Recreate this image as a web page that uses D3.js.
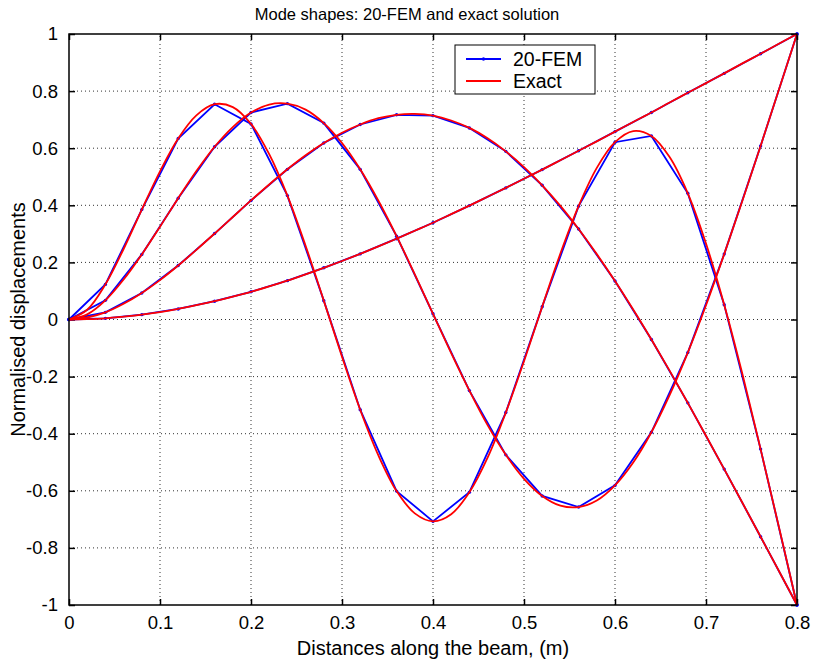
<!DOCTYPE html>
<html>
<head>
<meta charset="utf-8">
<script src="https://d3js.org/d3.v7.min.js"></script>
<style>
  body { margin: 0; background: #fff; }
  text { font-family: "Liberation Sans", Arial, Helvetica, sans-serif; fill: #000; }
</style>
</head>
<body>
<svg id="chart" width="814" height="663"></svg>
<script>
// node positions of the 20-element model, (m)
const xFem = [0, 0.04, 0.08, 0.12, 0.16, 0.2, 0.24, 0.28, 0.32, 0.36, 0.4,
              0.44, 0.48, 0.52, 0.56, 0.6, 0.64, 0.68, 0.72, 0.76, 0.8];

// 20-FEM nodal displacements, modes 1-4
const fem1 = [0, 0.004, 0.017, 0.037, 0.064, 0.097, 0.136, 0.181, 0.230, 0.283, 0.339,
              0.399, 0.461, 0.525, 0.591, 0.658, 0.725, 0.794, 0.862, 0.931, 1];
const fem2 = [0, 0.025, 0.093, 0.189, 0.301, 0.417, 0.526, 0.618, 0.683, 0.717, 0.714,
              0.671, 0.589, 0.470, 0.317, 0.135, -0.070, -0.292, -0.524, -0.761, -1];
const fem3 = [0, 0.067, 0.228, 0.425, 0.605, 0.725, 0.756, 0.688, 0.526, 0.292, 0.020,
              -0.249, -0.474, -0.618, -0.657, -0.581, -0.395, -0.116, 0.229, 0.608, 1];
const fem4 = [0, 0.123, 0.385, 0.634, 0.754, 0.685, 0.434, 0.066, -0.316, -0.601, -0.707,
              -0.605, -0.326, 0.045, 0.397, 0.621, 0.643, 0.442, 0.052, -0.454, -1];

// sample points of the exact solution
const xExact = [0, 0.02, 0.04, 0.06, 0.08, 0.1, 0.12, 0.14, 0.16, 0.18, 0.2,
                0.22, 0.24, 0.26, 0.28, 0.3, 0.32, 0.34, 0.36, 0.38, 0.4,
                0.42, 0.44, 0.46, 0.48, 0.5, 0.52, 0.54, 0.56, 0.58, 0.6,
                0.62, 0.64, 0.66, 0.68, 0.7, 0.72, 0.74, 0.76, 0.78, 0.8];

const exact1 = [0, 0.001, 0.004, 0.010, 0.017, 0.026, 0.037, 0.050, 0.064, 0.080, 0.097,
                0.116, 0.136, 0.158, 0.181, 0.205, 0.230, 0.256, 0.283, 0.311, 0.339,
                0.369, 0.399, 0.430, 0.461, 0.493, 0.525, 0.558, 0.591, 0.624, 0.658,
                0.692, 0.725, 0.760, 0.794, 0.828, 0.862, 0.897, 0.931, 0.966, 1];
const exact2 = [0, 0.007, 0.025, 0.055, 0.093, 0.138, 0.189, 0.244, 0.301, 0.359, 0.417,
                0.473, 0.526, 0.575, 0.618, 0.654, 0.683, 0.705, 0.717, 0.720, 0.714,
                0.697, 0.671, 0.635, 0.589, 0.534, 0.470, 0.398, 0.317, 0.229, 0.135,
                0.035, -0.070, -0.179, -0.292, -0.407, -0.524, -0.642, -0.761, -0.880, -1];
const exact3 = [0, 0.018, 0.067, 0.140, 0.228, 0.325, 0.425, 0.520, 0.605, 0.674, 0.725,
                0.753, 0.756, 0.735, 0.688, 0.618, 0.526, 0.416, 0.292, 0.158, 0.020,
                -0.118, -0.249, -0.370, -0.474, -0.558, -0.618, -0.652, -0.657, -0.634, -0.581,
                -0.501, -0.395, -0.265, -0.116, 0.050, 0.229, 0.416, 0.608, 0.804, 1];
const exact4 = [0, 0.034, 0.123, 0.247, 0.385, 0.519, 0.634, 0.715, 0.754, 0.744, 0.685,
                0.579, 0.434, 0.258, 0.066, -0.130, -0.316, -0.476, -0.601, -0.679, -0.707,
                -0.682, -0.605, -0.484, -0.326, -0.146, 0.045, 0.231, 0.397, 0.531, 0.621,
                0.660, 0.643, 0.569, 0.442, 0.266, 0.052, -0.191, -0.454, -0.725, -1];

const xTicks = [0, 0.1, 0.2, 0.3, 0.4, 0.5, 0.6, 0.7, 0.8];
const yTicks = [-1, -0.8, -0.6, -0.4, -0.2, 0, 0.2, 0.4, 0.6, 0.8, 1];
const legendLabels = ["20-FEM", "Exact"];

const femModes = [fem1, fem2, fem3, fem4];
const exactModes = [exact1, exact2, exact3, exact4];

const svg = d3.select("#chart");
const margin = {top: 34, right: 17, bottom: 58, left: 69};
const width = 814, height = 663;

const x = d3.scaleLinear().domain([0, 0.8]).range([margin.left, width - margin.right]);
const y = d3.scaleLinear().domain([-1, 1]).range([height - margin.bottom, margin.top]);

const tickFont = "18.5px";
const plain = d => String(d);   // keep the plain hyphen minus, as in the original

// grid
const grid = svg.append("g");
grid.selectAll("line.gx")
  .data(xTicks.slice(1, -1))
  .join("line")
    .attr("x1", d => x(d)).attr("x2", d => x(d))
    .attr("y1", y(-1)).attr("y2", y(1))
    .attr("stroke", "#333").attr("stroke-dasharray", "1,3");
grid.selectAll("line.gy")
  .data(yTicks.slice(1, -1))
  .join("line")
    .attr("y1", d => y(d)).attr("y2", d => y(d))
    .attr("x1", x(0)).attr("x2", x(0.8))
    .attr("stroke", "#333").attr("stroke-dasharray", "1,3");

// axes, ticks pointing inward on all four sides
const tickLen = 6;
svg.append("g").attr("transform", `translate(0,${y(-1)})`)
  .call(d3.axisBottom(x).tickValues(xTicks).tickSizeInner(-tickLen).tickSizeOuter(0).tickPadding(11)
    .tickFormat(plain))
  .call(g => g.select(".domain").remove());
svg.append("g").attr("transform", `translate(0,${y(1)})`)
  .call(d3.axisTop(x).tickValues(xTicks).tickSizeInner(-tickLen).tickSizeOuter(0).tickFormat(""))
  .call(g => g.select(".domain").remove());
svg.append("g").attr("transform", `translate(${x(0)},0)`)
  .call(d3.axisLeft(y).tickValues(yTicks).tickSizeInner(-tickLen).tickSizeOuter(0).tickPadding(11)
    .tickFormat(plain))
  .call(g => g.select(".domain").remove());
svg.append("g").attr("transform", `translate(${x(0.8)},0)`)
  .call(d3.axisRight(y).tickValues(yTicks).tickSizeInner(-tickLen).tickSizeOuter(0).tickFormat(""))
  .call(g => g.select(".domain").remove());
svg.selectAll(".tick line").attr("stroke", "#000").attr("stroke-width", 1.5);
svg.selectAll(".tick text").style("font-size", tickFont).style("font-family", "Liberation Sans, Arial, sans-serif");

// curves
const clipId = "plotclip";
svg.append("clipPath").attr("id", clipId).append("rect")
  .attr("x", x(0) - 3).attr("y", y(1) - 3).attr("width", x(0.8) - x(0) + 6).attr("height", y(-1) - y(1) + 6);
const plot = svg.append("g").attr("clip-path", `url(#${clipId})`);

const femLine = d3.line().x((d, i) => x(xFem[i])).y(d => y(d));
const exactLine = d3.line().x((d, i) => x(xExact[i])).y(d => y(d)).curve(d3.curveCatmullRom);

femModes.forEach(m => {
  plot.append("path").attr("d", femLine(m))
    .attr("fill", "none").attr("stroke", "#0000ff").attr("stroke-width", 1.8);
  plot.append("g").selectAll("circle").data(m).join("circle")
    .attr("cx", (d, i) => x(xFem[i])).attr("cy", d => y(d)).attr("r", 1.7)
    .attr("fill", "#0000ff");
});
exactModes.forEach(m => {
  plot.append("path").attr("d", exactLine(m))
    .attr("fill", "none").attr("stroke", "#ff0000").attr("stroke-width", 1.8);
});

// frame
svg.append("rect")
  .attr("x", x(0)).attr("y", y(1)).attr("width", x(0.8) - x(0)).attr("height", y(-1) - y(1))
  .attr("fill", "none").attr("stroke", "#000").attr("stroke-width", 1.5);

// legend
const lg = svg.append("g").attr("transform", "translate(455,45)");
lg.append("rect").attr("width", 140).attr("height", 49)
  .attr("fill", "#fff").attr("stroke", "#000").attr("stroke-width", 1);
const legendColors = ["#0000ff", "#ff0000"];
legendLabels.forEach((t, i) => {
  const ly = 14 + i * 22;
  lg.append("line").attr("x1", 11).attr("x2", 46).attr("y1", ly).attr("y2", ly)
    .attr("stroke", legendColors[i]).attr("stroke-width", 1.8);
  if (i === 0) lg.append("circle").attr("cx", 28.5).attr("cy", ly).attr("r", 1.7).attr("fill", legendColors[i]);
  lg.append("text").attr("x", 58).attr("y", ly + 7).style("font-size", "19.5px").text(t);
});

// labels
svg.append("text").attr("x", 407).attr("y", 20).attr("text-anchor", "middle")
  .style("font-size", "16.5px").text("Mode shapes: 20-FEM and exact solution");
svg.append("text").attr("x", x(0.4)).attr("y", 655).attr("text-anchor", "middle")
  .style("font-size", "20px").text("Distances along the beam, (m)");
svg.append("text").attr("transform", `translate(25,${y(0)}) rotate(-90)`).attr("text-anchor", "middle")
  .style("font-size", "20px").text("Normalised displacements");
</script>
</body>
</html>
